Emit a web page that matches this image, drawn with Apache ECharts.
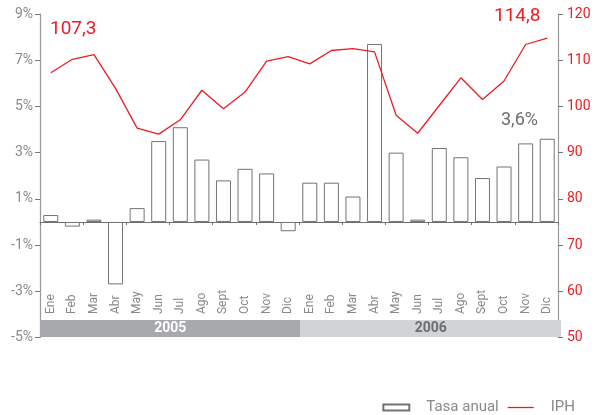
<!DOCTYPE html>
<html><head><meta charset="utf-8">
<script src="https://cdn.jsdelivr.net/npm/echarts@6/dist/echarts.min.js"></script>
<style>html,body{margin:0;padding:0;background:#fff}#c{width:595px;height:415px}</style>
</head><body><div id="c"></div>
<script>
const months = ['Ene','Feb','Mar','Abr','May','Jun','Jul','Ago','Sept','Oct','Nov','Dic','Ene','Feb','Mar','Abr','May','Jun','Jul','Ago','Sept','Oct','Nov','Dic'];
const years = ['2005','2006'];
const tasaAnual = [0.3,-0.2,0.1,-2.7,0.6,3.5,4.1,2.7,1.8,2.3,2.1,-0.4, 1.7,1.7,1.1,7.7,3.0,0.1,3.2,2.8,1.9,2.4,3.4,3.6];
const iph = [107.3,110.2,111.2,103.9,95.3,94.0,97.1,103.5,99.5,103.1,109.8,110.8, 109.2,112.1,112.5,111.8,98.1,94.2,100.2,106.2,101.5,105.5,113.4,114.8];
const yearBand = [1,1];

const RED = '#ec1c24', GRAY = '#8a8a8a', AXIS = '#9a9a9a', FONT = 'Roboto, "Liberation Sans", sans-serif';
const fmt = v => String(v).replace('.', ',');

const chart = echarts.init(document.getElementById('c'));
chart.setOption({
  animation: false,
  textStyle: {fontFamily: FONT},
  grid: [
    {left: 40, right: 37, top: 14, bottom: 77.5},
    {left: 40, right: 37, top: 315, height: 1},
    {left: 40, right: 34, top: 320, height: 17}
  ],
  xAxis: [
    {type: 'category', data: months, gridIndex: 0, boundaryGap: true,
     axisLine: {onZero: true, onZeroAxisIndex: 0, lineStyle: {color: '#6d6e71', width: 1}},
     axisTick: {show: true, length: 3, lineStyle: {color: '#6d6e71'}},
     axisLabel: {show: false}},
    {type: 'category', data: months, gridIndex: 1, position: 'top', boundaryGap: true,
     axisLine: {show: false}, axisTick: {show: false},
     axisLabel: {rotate: 90, margin: 1, color: GRAY, fontSize: 12, interval: 0, fontFamily: FONT}},
    {type: 'category', data: years, gridIndex: 2, boundaryGap: true,
     axisLine: {show: false}, axisTick: {show: false}, axisLabel: {show: false}}
  ],
  yAxis: [
    {type: 'value', gridIndex: 0, min: -5, max: 9, interval: 2, position: 'left',
     axisLine: {show: true, lineStyle: {color: AXIS, width: 1.2}},
     axisTick: {show: true, length: 5, lineStyle: {color: '#777'}},
     splitLine: {show: false},
     axisLabel: {formatter: v => v + '%', color: GRAY, fontSize: 14, margin: 7}},
    {type: 'value', gridIndex: 0, min: 50, max: 120, interval: 10, position: 'right',
     axisLine: {show: true, lineStyle: {color: AXIS, width: 1.2}},
     axisTick: {show: true, length: 5, lineStyle: {color: '#777'}},
     splitLine: {show: false},
     axisLabel: {color: RED, fontSize: 14, margin: 9}},
    {type: 'value', gridIndex: 1, show: false},
    {type: 'value', gridIndex: 2, show: false, min: 0, max: 1}
  ],
  legend: {
    right: 15, top: 395, itemGap: 9, itemWidth: 26, itemHeight: 6,
    textStyle: {color: GRAY, fontSize: 15, padding: [0, 0, 0, 12]},
    data: [{name: 'Tasa anual', icon: 'rect'},
           {name: 'IPH', icon: 'path://M0,0L26,0L26,1.3L0,1.3Z', itemStyle: {color: RED}}]
  },
  series: [
    {name: 'Tasa anual', type: 'bar', xAxisIndex: 0, yAxisIndex: 0, data: tasaAnual,
     barWidth: 15,
     itemStyle: {color: '#ffffff', borderColor: '#737373', borderWidth: 1}},
    {name: 'IPH', type: 'line', xAxisIndex: 0, yAxisIndex: 1, data: iph,
     symbol: 'none', lineStyle: {color: RED, width: 1.3}, itemStyle: {color: RED}},
    {name: 'year', type: 'bar', xAxisIndex: 2, yAxisIndex: 3, barWidth: '100%', barGap: 0, barCategoryGap: 0,
     silent: true,
     data: yearBand.map((v, i) => ({
       value: v,
       itemStyle: {color: i === 0 ? '#a7a9ac' : '#d1d3d4'},
       label: {show: true, position: 'inside', formatter: years[i], fontWeight: 'bold', fontSize: 14,
               color: i === 0 ? '#ffffff' : '#6d6e71', fontFamily: FONT}
     }))}
  ],
  graphic: [
    {type: 'text', left: 50, top: 20, style: {text: fmt(iph[0]), fill: RED, fontSize: 19, fontFamily: FONT}},
    {type: 'text', left: 494, top: 7, style: {text: fmt(iph[iph.length - 1]), fill: RED, fontSize: 19, fontFamily: FONT}},
    {type: 'text', left: 501, top: 111, style: {text: fmt(tasaAnual[tasaAnual.length - 1]) + '%', fill: '#6d6e71', fontSize: 18, fontFamily: FONT}}
  ]
});
</script></body></html>
